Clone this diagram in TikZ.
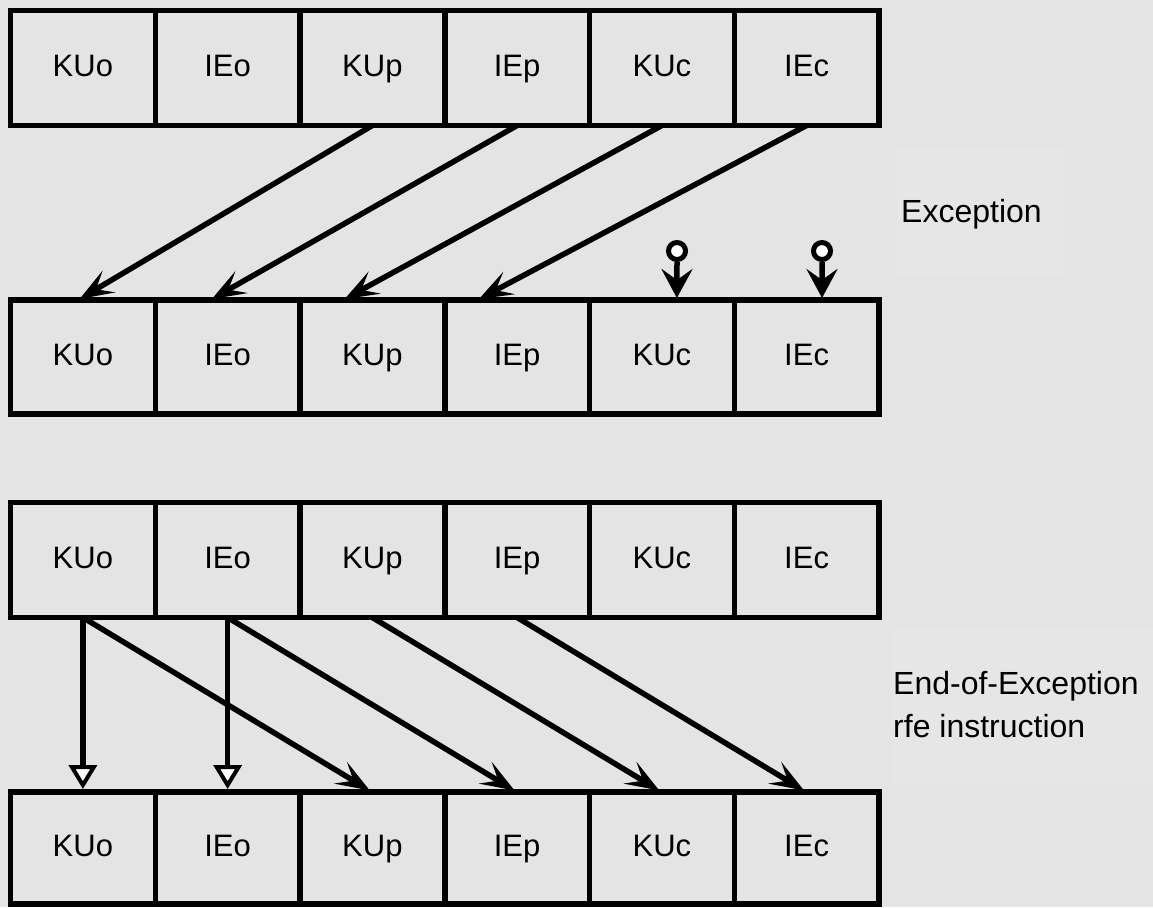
\documentclass[tikz,border=0pt]{standalone}
\usepackage{fontspec}
\setmainfont{Liberation Sans}
\usetikzlibrary{arrows.meta}
\definecolor{bg}{HTML}{E4E4E4}
\definecolor{lbl}{HTML}{E6E6E6}
\tikzset{
  cell/.style={draw=black, fill=bg, line width=5.5pt, rectangle,
    minimum width=144.75pt, minimum height=115pt, inner sep=0pt, outer sep=0pt,
    font=\fontsize{31}{37}\selectfont, text height=23pt, text depth=6pt},
  rowtwo/.style={cell, minimum height=114pt},
  rowfour/.style={cell, minimum height=112pt},
  lab/.style={font=\fontsize{32}{43}\selectfont, inner sep=0pt, align=left},
  barbed/.style={line width=5.5pt, -{Stealth[length=34pt, width=25pt, inset=15pt]}, shorten >=2pt},
  hollow/.style={line width=5.5pt, -{Triangle[length=24pt, width=28pt, fill=white, line width=4pt]}, shorten >=3pt},
  pinarrow/.style={line width=5.5pt, -{Stealth[length=29pt, width=31pt, inset=11pt]}, shorten >=2pt},
  pinhead/.style={circle, draw=black, fill=white, line width=5pt, minimum size=17pt, inner sep=0pt}
}
\begin{document}
\begin{tikzpicture}[x=1pt,y=-1pt]
\fill[bg] (0,0) rectangle (1153,907);
\useasboundingbox (0,0) rectangle (1153,907);
% faint label panels
\fill[lbl] (897,150) rectangle (1063,275);
\fill[lbl] (893,630) rectangle (1153,785);
% rows of cells
\foreach \t [count=\i from 0] in {KUo,IEo,KUp,IEp,KUc,IEc}{
  \node[cell] (a\i) at ({10.5+144.75*(\i+0.5)},68) {\t};
  \node[rowtwo] (b\i) at ({10.5+144.75*(\i+0.5)},357) {\t};
  \node[cell] (c\i) at ({10.5+144.75*(\i+0.5)},560) {\t};
  \node[rowfour] (d\i) at ({10.5+144.75*(\i+0.5)},848) {\t};
}
% labels
\node[lab, anchor=base west] (exc) at (901,222) {Exception};
\node[lab, anchor=base west] (eoe) at (893,737) {End-of-Exception\\rfe instruction};
% exception arrows
\draw[barbed] (a2.south) -- ([xshift=-5pt]b0.north);
\draw[barbed] (a3.south) -- ([xshift=-17.5pt]b1.north);
\draw[barbed] (a4.south) -- ([xshift=-29.5pt]b2.north);
\draw[barbed] (a5.south) -- ([xshift=-40pt]b3.north);
% pin arrows
\node[pinhead] (p1) at (677,251) {};
\node[pinhead] (p2) at (822,251) {};
\draw[pinarrow] (p1.south) -- ([xshift=15pt]b4.north);
\draw[pinarrow] (p2.south) -- ([xshift=15.4pt]b5.north);
% end-of-exception arrows
\draw[hollow] (c0.south) -- (d0.north);
\draw[hollow] (c1.south) -- (d1.north);
\draw[barbed, shorten >=3pt] (c0.south) -- (d2.north);
\draw[barbed, shorten >=3pt] (c1.south) -- (d3.north);
\draw[barbed, shorten >=3pt] (c2.south) -- (d4.north);
\draw[barbed, shorten >=3pt] (c3.south) -- (d5.north);
\end{tikzpicture}
\end{document}
